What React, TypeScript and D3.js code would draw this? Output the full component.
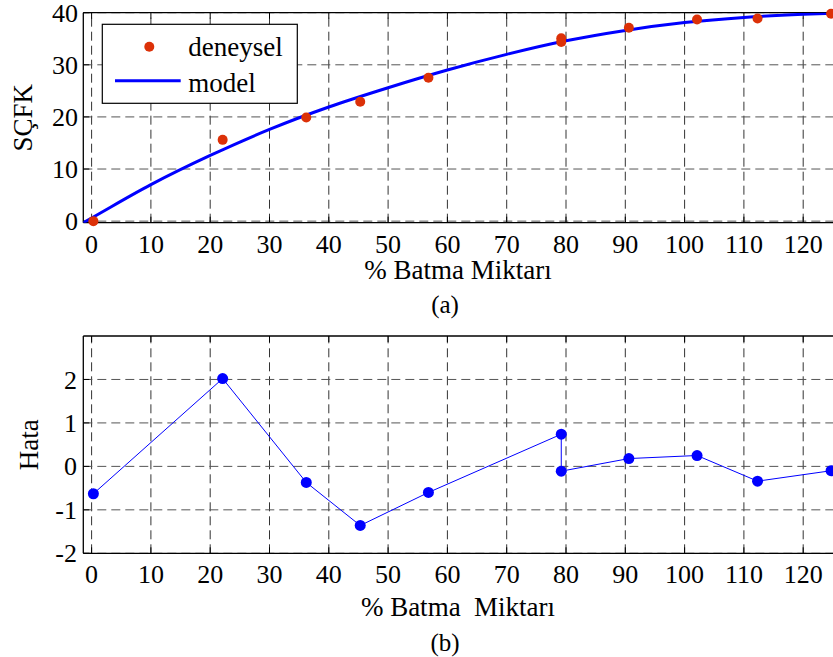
import React from 'react';
import * as d3 from 'd3';

const xTicks = [0, 10, 20, 30, 40, 50, 60, 70, 80, 90, 100, 110, 120];
const topYTicks = [0, 10, 20, 30, 40];
const botYTicks = [-2, -1, 0, 1, 2];

// experimental points (deneysel)
const expX = [0.3, 22.1, 36.2, 45.3, 56.8, 79.2, 79.2, 90.6, 102.1, 112.3, 124.7];
const expY = [0, 15.6, 19.9, 22.9, 27.5, 35.1, 34.4, 37.1, 38.7, 38.9, 39.8];

// model curve
const modelX = [-1.4, 0, 10, 20, 30, 40, 50, 60, 70, 80, 90, 100, 110, 120, 125];
const modelY = [-0.3, 0.6, 7.0, 12.6, 17.6, 21.9, 25.6, 29.0, 32.0, 34.6, 36.6, 38.1, 39.1, 39.7, 39.9];

// error (Hata)
const errY = [-0.63, 2.02, -0.37, -1.36, -0.6, 0.74, -0.11, 0.18, 0.25, -0.34, -0.1];

const FONT = "'Liberation Serif', Tinos, 'Times New Roman', 'DejaVu Serif', serif";
const RED = '#dc3108';
const BLUE = '#0000ff';

const W = 833;
const H = 657;
const X0 = 83.3;

const x = d3.scaleLinear().domain([-1.4, 126]).range([X0, X0 + 127.4 * 5.93]);
const yTop = d3.scaleLinear().domain([-0.3, 40]).range([222.7, 12.7]);
const yBot = d3.scaleLinear().domain([-2, 3]).range([553.3, 336]);

const txt = { fontFamily: FONT } as React.CSSProperties;

function Panel({ y, yTicks, yLabel, yLabelX, tickRight, xTickBase, xLabel, xLabelBase, cap, capBase, children }: any) {
  const [yb, yt] = y.range();
  const xr = W + 10;
  return (
    <g>
      {xTicks.map((t) => (
        <line key={'gx' + t} x1={x(t)} x2={x(t)} y1={yb} y2={yt} stroke="#333" strokeWidth={1} strokeDasharray="9,5" />
      ))}
      {yTicks.map((t: number) => (
        <line key={'gy' + t} x1={X0} x2={xr} y1={y(t)} y2={y(t)} stroke="#555" strokeWidth={1} strokeDasharray="9,5" />
      ))}
      {xTicks.map((t) => (
        <g key={'tx' + t}>
          <line x1={x(t)} x2={x(t)} y1={yb} y2={yb - 6} stroke="#000" />
          <line x1={x(t)} x2={x(t)} y1={yt} y2={yt + 6} stroke="#000" />
        </g>
      ))}
      {yTicks.map((t: number) => (
        <line key={'ty' + t} x1={X0} x2={X0 + 6} y1={y(t)} y2={y(t)} stroke="#000" />
      ))}
      <line x1={X0} x2={xr} y1={yb} y2={yb} stroke="#000" strokeWidth={1.3} />
      <line x1={X0} x2={xr} y1={yt} y2={yt} stroke="#000" strokeWidth={1.3} />
      <line x1={X0} x2={X0} y1={yb} y2={yt} stroke="#000" strokeWidth={1.3} />
      {xTicks.map((t) => (
        <text key={'lx' + t} x={x(t)} y={xTickBase} textAnchor="middle" style={txt} fontSize={26}>{t}</text>
      ))}
      {yTicks.map((t: number) => (
        <text key={'ly' + t} x={tickRight} y={y(t)} dy="0.35em" textAnchor="end" style={txt} fontSize={26}>{t}</text>
      ))}
      <text transform={`translate(${yLabelX},${(yb + yt) / 2}) rotate(-90)`} textAnchor="middle" style={txt} fontSize={27}>{yLabel}</text>
      <text x={458} y={xLabelBase} textAnchor="middle" style={{ ...txt, whiteSpace: 'pre' }} fontSize={27}>{xLabel}</text>
      <text x={445} y={capBase} textAnchor="middle" style={txt} fontSize={25}>{cap}</text>
      {children}
    </g>
  );
}

export default function App() {
  const modelLine = d3
    .line<number>()
    .x((d, i) => x(modelX[i]))
    .y((d) => yTop(d))
    .curve(d3.curveMonotoneX)(modelY) as string;
  const errLine = d3
    .line<number>()
    .x((d, i) => x(expX[i]))
    .y((d) => yBot(d))(errY) as string;

  return (
    <svg width={W} height={H} style={{ position: 'absolute', left: 0, top: 0, background: '#fff' }}>
      <defs>
        <clipPath id="clipTop">
          <rect x={X0} y={yTop.range()[1]} width={W} height={yTop.range()[0] - yTop.range()[1]} />
        </clipPath>
      </defs>
      <Panel y={yTop} yTicks={topYTicks} yLabel="SÇFK" yLabelX={32} tickRight={78} xTickBase={252.5} xLabel="% Batma Miktarı" xLabelBase={278.5} cap="(a)" capBase={313}>
        <path d={modelLine} fill="none" stroke={BLUE} strokeWidth={3} clipPath="url(#clipTop)" />
        {expY.map((v, i) => (
          <circle key={'e' + i} cx={x(expX[i])} cy={yTop(v)} r={5} fill={RED} />
        ))}
        <rect x={102.3} y={24.3} width={195} height={79} fill="#fff" stroke="#000" strokeWidth={1.2} />
        <circle cx={149.3} cy={46.7} r={5} fill={RED} />
        <line x1={115} x2={180.7} y1={80.7} y2={80.7} stroke={BLUE} strokeWidth={3} />
        <text x={188.3} y={55.7} style={txt} fontSize={27}>deneysel</text>
        <text x={188.3} y={92.3} style={txt} fontSize={27}>model</text>
      </Panel>
      <Panel y={yBot} yTicks={botYTicks} yLabel="Hata" yLabelX={38} tickRight={77} xTickBase={583} xLabel={'% Batma  Miktarı'} xLabelBase={615.7} cap="(b)" capBase={651}>
        <path d={errLine} fill="none" stroke={BLUE} strokeWidth={1} />
        {errY.map((v, i) => (
          <circle key={'h' + i} cx={x(expX[i])} cy={yBot(v)} r={5.5} fill={BLUE} />
        ))}
      </Panel>
    </svg>
  );
}
